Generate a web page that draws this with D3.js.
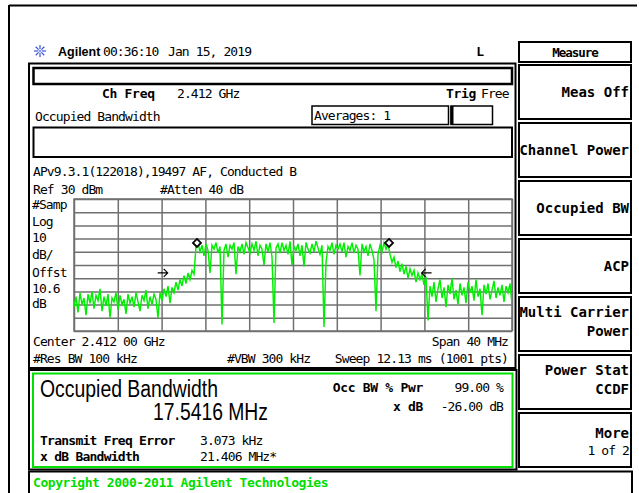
<!DOCTYPE html>
<html><head><meta charset="utf-8">
<script src="https://cdn.jsdelivr.net/npm/d3@7"></script>
<style>
body{margin:0;background:#fff}
svg{display:block}
.sm{font-family:"DejaVu Sans Mono",monospace;font-size:13px;letter-spacing:-0.9px;fill:#000}
.bd{font-family:"DejaVu Sans Mono",monospace;font-size:13px;font-weight:bold;letter-spacing:-0.3px;fill:#000}
.key{font-family:"DejaVu Sans Mono",monospace;font-size:14px;font-weight:bold;fill:#000}
</style></head><body>
<svg id="c" width="639" height="493"></svg>
<script>
// ---------- data ----------
const startGHz = 2.392, stopGHz = 2.432;
const refLevel = 30, dbPerDiv = 10, divisions = 10;
const traceDbm = [
  -52,-44,-56,-41,-50,-45,-58,-42,-49,-40,-53,-43,-47,-38,-55,-44,-51,-42,-60,-45,-48,-41,-54,-43,-50,-46,-57,-42,-49,
  -44,-52,-41,-48,-55,-43,-47,-39,-53,-44,-50,-42,-46,-60,-41,
  -47,-38,-44,-36,-49,-37,-41,-33,-39,-31,-36,-28,-34,-26,-31,-24,-27,
  -6,-3,-10,-5,-13,-4,-9,-26,-5,-8,
  -3,-11,-6,-65,-9,-4,-14,-5,-8,-3,
  -27,-6,-10,-4,-12,-3,-7,-11,-4,-9,
  -2,-13,-5,-8,-20,-4,-10,-3,-14,-64,
  -7,-4,-11,-3,-9,-5,-12,-2,-20,-6,
  -9,-4,-13,-5,-21,-3,-8,-11,-4,-10,
  -2,-7,-12,-5,-67,-18,-6,-9,-3,-12,
  -5,-8,-4,-10,-3,-14,-6,-9,-3,-11,
  -5,-8,-28,-4,-10,-6,-13,-4,-9,-16,
  -55,-12,-5,-10,-3,-8,-4,
  -12,-18,-14,-22,-17,-25,-19,-27,-21,-30,-23,-28,-24,-33,-26,-31,-27,-35,-29,-62,
  -36,-44,-33,-48,-38,-31,-45,-37,-52,-35,-42,-30,-46,-39,-50,-34,-43,-37,-49,-33,
  -41,-36,-47,-31,-44,-38,-58,-35,-42,-34,-46,-39,-32,-45,-37,-43,-35,-48,-36,-41,-34,-50
];
const obwMarkersGHz = [2.40323, 2.42077];
const obwMarkerDbm = [-3.3, -3.3];
const xdbArrowsGHz = [2.4001, 2.4242];
const xdbArrowDbm = [-26, -26];
const xdbArrowDir = ["right", "left"];
const leftLabels = ["#Samp","Log","10","dB/","Offst","10.6","dB"];
const softkeys = [["Meas Off"],["Channel Power"],["Occupied BW"],["ACP"],["Multi Carrier","Power"],["Power Stat","CCDF"],["More","1 of 2"]];

// ---------- layout ----------
const svg = d3.select("#c");
const G = {x0:74, x1:512, y0:199, y1:331};
const x = d3.scaleLinear().domain([startGHz, stopGHz]).range([G.x0, G.x1]);
const y = d3.scaleLinear().domain([refLevel - dbPerDiv*divisions, refLevel]).range([G.y1, G.y0]);

function rect(x0,y0,x1,y1,sw,col){
  svg.append("rect").attr("x",x0).attr("y",y0).attr("width",x1-x0).attr("height",y1-y0)
    .attr("fill","none").attr("stroke",col||"#000").attr("stroke-width",sw);
}
function txt(xp,yp,s,cls,anchor,extra){
  const t = svg.append("text").attr("x",xp).attr("y",yp).attr("dy","0.36em")
    .attr("class",cls).attr("text-anchor",anchor||"start").text(s);
  if(extra) extra(t);
  return t;
}

// outer frame
svg.append("line").attr("x1",9).attr("x2",637).attr("y1",5.5).attr("y2",5.5).attr("stroke","#000").attr("stroke-width",2);
svg.append("line").attr("x1",9).attr("x2",9).attr("y1",5).attr("y2",493).attr("stroke","#000").attr("stroke-width",2);

// header
const logo = svg.append("g").attr("transform","translate(40,51)");
d3.range(8).forEach(k=>{
  const a = k*Math.PI/4;
  logo.append("line").attr("x1",2*Math.cos(a)).attr("y1",2*Math.sin(a))
    .attr("x2",6*Math.cos(a)).attr("y2",6*Math.sin(a)).attr("stroke","#3b4fd8").attr("stroke-width",1.2);
});
logo.append("circle").attr("r",1.6).attr("fill","#8fa0ff");
txt(58,51,"Agilent","bd","start",t=>t.style("font-family","Liberation Sans, Arial").style("font-size","12.5px").style("letter-spacing","0"));
txt(103,51,"00:36:10","sm");
txt(168,51,"Jan 15, 2019","sm");
txt(480,51,"L","bd","middle");
rect(519,42,631,62,2);
txt(575,52,"Measure","bd","middle",t=>t.style("font-size","12.5px").style("letter-spacing","-1px"));

// main panel
rect(29,63.5,515.5,368,2);
rect(33.5,68,512,84,2.5);
txt(102,93,"Ch Freq","bd");
txt(177,93,"2.412 GHz","sm");
txt(446,93,"Trig","bd");
txt(481,93,"Free","sm");
txt(35,116,"Occupied Bandwidth","sm");
rect(312,106,448.5,124.5,1.5);
txt(314,115.5,"Averages: 1","sm");
rect(451,106,492.5,124.5,1.5);
svg.append("line").attr("x1",452).attr("x2",452).attr("y1",106).attr("y2",124.5).attr("stroke","#000").attr("stroke-width",3);
rect(33.5,127.5,512,157,2);
txt(33,171.5,"APv9.3.1(122018),19497 AF, Conducted B","sm");
txt(33,189.5,"Ref 30 dBm","sm");
txt(160,189.5,"#Atten 40 dB","sm");
const labelY = [204,221.5,237.5,254,272.5,288,303.5];
leftLabels.forEach((s,i)=>txt(32,labelY[i],s,"sm"));

// graticule via axes
const xTicks = d3.range(divisions+1).map(i=>startGHz + (stopGHz-startGHz)*i/divisions);
const yTicks = d3.range(divisions+1).map(i=>refLevel - dbPerDiv*i);
const gx = svg.append("g").attr("transform",`translate(0,${G.y1})`)
  .call(d3.axisBottom(x).tickValues(xTicks).tickSize(-(G.y1-G.y0)).tickFormat(""));
const gy = svg.append("g").attr("transform",`translate(${G.x0},0)`)
  .call(d3.axisLeft(y).tickValues(yTicks).tickSize(-(G.x1-G.x0)).tickFormat(""));
[gx,gy].forEach(g=>{
  g.select(".domain").remove();
  g.selectAll(".tick line").attr("stroke","#707070").attr("stroke-width",1.5);
});
rect(G.x0,G.y0,G.x1,G.y1,1.5,"#707070");

// trace
svg.append("clipPath").attr("id","gclip").append("rect")
  .attr("x",G.x0).attr("y",G.y0).attr("width",G.x1-G.x0).attr("height",G.y1-G.y0);
const N = traceDbm.length;
const freqOf = i => startGHz + (stopGHz-startGHz)*i/(N-1);
svg.append("path").attr("clip-path","url(#gclip)")
  .attr("d", d3.line().x((d,i)=>x(freqOf(i))).y(d=>y(d))(traceDbm))
  .attr("fill","none").attr("stroke","#00ee00").attr("stroke-width",1.45);

// markers
obwMarkersGHz.forEach((f,i)=>{
  svg.append("path").attr("transform",`translate(${x(f)},${y(obwMarkerDbm[i])})`)
    .attr("d","M0,-4L4,0L0,4L-4,0Z").attr("fill","#fff").attr("stroke","#000").attr("stroke-width",1.8);
});
xdbArrowsGHz.forEach((f,i)=>{
  const s = xdbArrowDir[i]==="right" ? 1 : -1;
  svg.append("path").attr("transform",`translate(${x(f)},${y(xdbArrowDbm[i])})`)
    .attr("d",`M${-5*s},0L${5*s},0M${1*s},-4L${5*s},0L${1*s},4`)
    .attr("fill","none").attr("stroke","#000").attr("stroke-width",1.2);
});

txt(33,341,"Center 2.412 00 GHz","sm");
txt(508,341,"Span 40 MHz","sm","end");
txt(33,358.5,"#Res BW 100 kHz","sm");
txt(227,358.5,"#VBW 300 kHz","sm");
txt(508,358.5,"Sweep 12.13 ms (1001 pts)","sm","end");

// result box
rect(29,370,516.5,469.5,2);
rect(33,373.5,512.5,467,2,"#00e000");
txt(40,388.5,"Occupied Bandwidth","sm","start",t=>t.style("font-family","Liberation Sans, Arial").style("font-size","23px").style("letter-spacing","0").attr("textLength",178).attr("lengthAdjust","spacingAndGlyphs"));
txt(153,412,"17.5416 MHz","sm","start",t=>t.style("font-family","Liberation Sans, Arial").style("font-size","23px").style("letter-spacing","0").attr("textLength",115).attr("lengthAdjust","spacingAndGlyphs"));
txt(423,387,"Occ BW % Pwr","bd","end");
txt(503,387,"99.00 %","sm","end");
txt(423,406.5,"x dB","bd","end");
txt(503,406.5,"-26.00 dB","sm","end");
txt(40,440,"Transmit Freq Error","bd","start",t=>t.style("letter-spacing","-0.75px"));
txt(200,440,"3.073 kHz","sm");
txt(40,456.5,"x dB Bandwidth","bd","start",t=>t.style("letter-spacing","-0.75px"));
txt(200,456.5,"21.406 MHz*","sm");

// copyright bar
rect(29,471.5,632,495,2);
txt(33,482.5,"Copyright 2000-2011 Agilent Technologies","bd","start",t=>t.style("fill","#00dd00").style("letter-spacing","-0.45px"));

// softkeys
softkeys.forEach((lines,i)=>{
  const top = 65 + i*58;
  rect(519,top,631,top+54,2);
  if(lines.length===1){
    txt(629,top+27,lines[0],"key","end");
  } else if(lines[0]==="More"){
    txt(629,top+20,lines[0],"key","end");
    txt(629,top+37,lines[1],"sm","end");
  } else {
    txt(629,top+15,lines[0],"key","end");
    txt(629,top+34,lines[1],"key","end");
  }
});
</script></body></html>
